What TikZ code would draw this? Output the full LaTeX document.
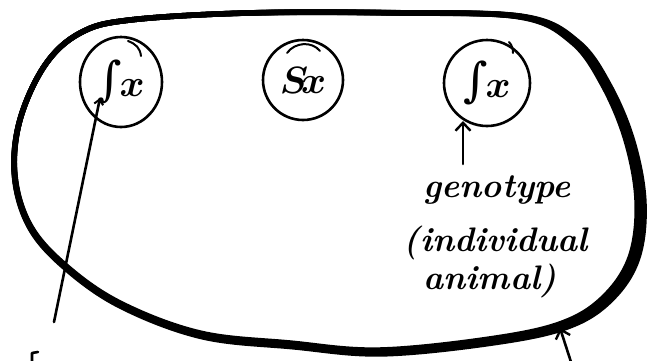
\RequirePackage{fix-cm}
\documentclass[tikz,border=0pt]{standalone}
\usepackage{fontspec}
\newfontfamily\intfont{DejaVu Serif}
\usetikzlibrary{arrows.meta,shapes.geometric}
\tikzset{
  pen/.style={line width=2.6pt, line cap=round, line join=round},
  genocircle/.style={ellipse, draw, line width=2.6pt, inner sep=0pt,
     font=\fontsize{38}{40}\selectfont\boldmath},
  barb/.style={-{Straight Barb[length=8pt,width=15pt,line width=2.4pt]}},
  smallbarb/.style={-{Straight Barb[length=5pt,width=9pt,line width=2pt]}},
  hand/.style={font=\fontsize{34}{38}\selectfont\bfseries\itshape\addfontfeature{LetterSpace=1.5}, anchor=base, inner sep=0pt},
  blobline/.style={line width=5.5pt, line cap=round, line join=round},
}
\newcommand\bigint{{\intfont\fontsize{47}{48}\selectfont\raisebox{1pt}{∫}}\kern-2pt}
\def\blobpath{plot[smooth cycle, tension=0.6] coordinates {
  (130,20) (250,13) (400,13) (520,17) (572,42) (603,85) (626,140) (637,200)
  (631,255) (606,295) (565,322) (496,338) (380,350) (290,343) (200,333)
  (120,303) (65,265) (30,225) (15,175) (20,120) (45,65) (80,33)}}
\begin{document}
\begin{tikzpicture}[x=1pt,y=-1pt]
\useasboundingbox (0,0) rectangle (647,360);
% the outer blob, heavier towards the lower right
\foreach \s in {1.000,1.003,1.006,1.009,1.012}{
  \begin{scope}[shift={(60,30)}, scale=\s, shift={(-60,-30)}]
    \draw[blobline] \blobpath;
  \end{scope}
}
% three genotype circles
\node[genocircle, minimum width=82pt, minimum height=90pt] (c1) at (121,82) {\bigint$x$};
\node[genocircle, minimum width=80pt, minimum height=80pt] (c2) at (303,80) {$S\!x$};
\node[genocircle, minimum width=86pt, minimum height=86pt] (c3) at (487,83) {\bigint$x$};
% pen marks at the circle tops
\draw[pen, line width=2pt] (128,41) .. controls (136,44) and (140,48) .. (141,56);
\draw[pen, line width=2pt] (287,53) .. controls (295,42) and (312,41) .. (320,51);
\draw[pen, line width=2pt] (509,42) .. controls (512,45) and (513,49) .. (513,53);
% labels
\node[hand] (g1) at (497,197) {genotype};
\node[hand] (g2) at (496,251) {(individual};
\node[hand] (g3) at (490,289) {animal)};
% connectors
\coordinate (a3) at (463,164);
\coordinate (t3) at (463,121);
\draw[pen, barb] (a3) -- (t3);
\coordinate (l0) at (54,322);
\coordinate (l1) at (100,98);
\draw[pen, smallbarb] (l0) -- (l1);
\coordinate (r0) at (571,362);
\coordinate (r1) at (560,328);
\draw[pen, barb] (r0) -- (r1);
% cut-off bracket at the bottom left
\draw[pen] (38,352) -- (32,353) -- (32,364);
\end{tikzpicture}
\end{document}
